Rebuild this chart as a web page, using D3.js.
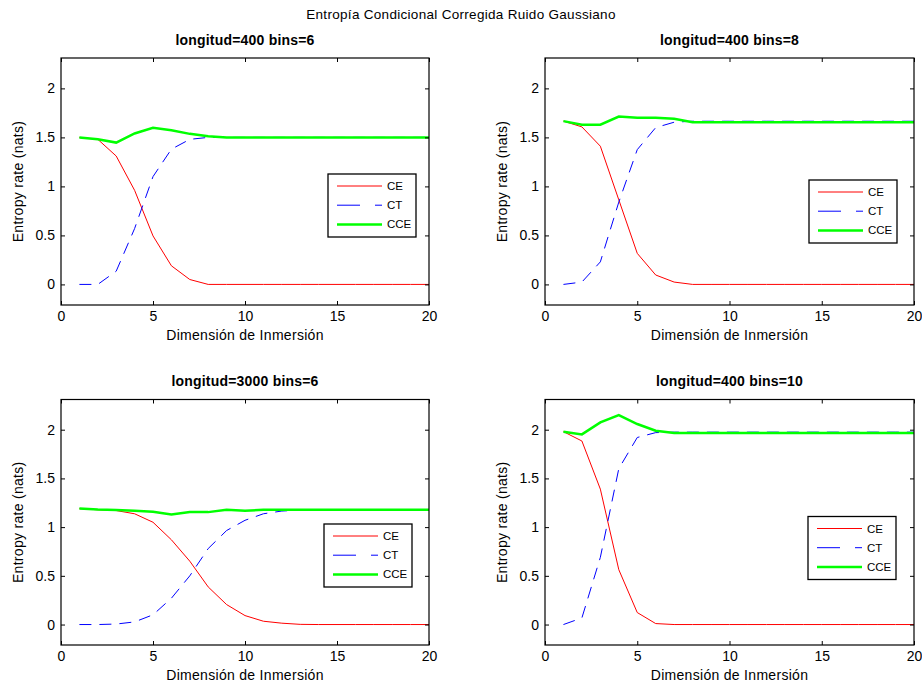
<!DOCTYPE html>
<html>
<head>
<meta charset="utf-8">
<script src="https://cdn.jsdelivr.net/npm/d3@7"></script>
<style>
  body { margin: 0; background: #fff; }
  svg { font-family: "Liberation Sans", Arial, sans-serif; }
</style>
</head>
<body>
<svg id="chart" width="922" height="687"></svg>
<script>
// embedding dimension 1..20
const dims = d3.range(1, 21);

// longitud=400 bins=6
const ce400b6  = [1.50, 1.48, 1.31, 0.96, 0.495, 0.19, 0.05, 0, 0, 0, 0, 0, 0, 0, 0, 0, 0, 0, 0, 0];
const ct400b6  = [0, 0, 0.135, 0.57, 1.10, 1.38, 1.48, 1.50, 1.50, 1.50, 1.50, 1.50, 1.50, 1.50, 1.50, 1.50, 1.50, 1.50, 1.50, 1.50];
const cce400b6 = [1.50, 1.48, 1.447, 1.54, 1.597, 1.573, 1.536, 1.512, 1.50, 1.50, 1.50, 1.50, 1.50, 1.50, 1.50, 1.50, 1.50, 1.50, 1.50, 1.50];

// longitud=400 bins=8
const ce400b8  = [1.666, 1.607, 1.41, 0.863, 0.317, 0.096, 0.024, 0, 0, 0, 0, 0, 0, 0, 0, 0, 0, 0, 0, 0];
const ct400b8  = [0, 0.024, 0.23, 0.84, 1.375, 1.60, 1.655, 1.665, 1.665, 1.665, 1.665, 1.665, 1.665, 1.665, 1.665, 1.665, 1.665, 1.665, 1.665, 1.665];
const cce400b8 = [1.666, 1.63, 1.63, 1.713, 1.70, 1.70, 1.69, 1.655, 1.655, 1.655, 1.655, 1.655, 1.655, 1.655, 1.655, 1.655, 1.655, 1.655, 1.655, 1.655];

// longitud=3000 bins=6
const ce3000b6  = [1.19, 1.178, 1.17, 1.137, 1.05, 0.87, 0.65, 0.386, 0.205, 0.092, 0.034, 0.014, 0.002, 0, 0, 0, 0, 0, 0, 0];
const ct3000b6  = [0, 0, 0.005, 0.027, 0.10, 0.27, 0.50, 0.78, 0.965, 1.07, 1.137, 1.165, 1.175, 1.178, 1.178, 1.178, 1.178, 1.178, 1.178, 1.178];
const cce3000b6 = [1.19, 1.18, 1.175, 1.167, 1.157, 1.13, 1.154, 1.154, 1.178, 1.167, 1.178, 1.178, 1.178, 1.178, 1.178, 1.178, 1.178, 1.178, 1.178, 1.178];

// longitud=400 bins=10
const ce400b10  = [1.98, 1.884, 1.39, 0.563, 0.123, 0.01, 0, 0, 0, 0, 0, 0, 0, 0, 0, 0, 0, 0, 0, 0];
const ct400b10  = [0, 0.068, 0.69, 1.60, 1.92, 1.97, 1.975, 1.975, 1.975, 1.975, 1.975, 1.975, 1.975, 1.975, 1.975, 1.975, 1.975, 1.975, 1.975, 1.975];
const cce400b10 = [1.98, 1.952, 2.075, 2.15, 2.058, 1.99, 1.966, 1.966, 1.966, 1.966, 1.966, 1.966, 1.966, 1.966, 1.966, 1.966, 1.966, 1.966, 1.966, 1.966];

const xTicks = [0, 5, 10, 15, 20];
const yTicks = [0, 0.5, 1, 1.5, 2];
const seriesNames = ["CE", "CT", "CCE"];

const mainTitle = "Entropía Condicional Corregida Ruido Gaussiano";
const xLabel = "Dimensión de Inmersión";
const yLabel = "Entropy rate (nats)";

const styles = [
  { color: "#ff0000", width: 1, dash: null, legendDash: null },
  { color: "#0000ff", width: 1, dash: "12,8", legendDash: "23,15,7" },
  { color: "#00ff00", width: 2.5, dash: null, legendDash: null }
];

// panel layout (axes box in pixels, legend offset from top-right of axes)
const panels = [
  { title: "longitud=400 bins=6",   series: [ce400b6, ct400b6, cce400b6],     box: [61, 58, 429, 305],   leg: [13, 116] },
  { title: "longitud=400 bins=8",   series: [ce400b8, ct400b8, cce400b8],     box: [545, 58, 914, 305],  leg: [17, 122] },
  { title: "longitud=3000 bins=6",  series: [ce3000b6, ct3000b6, cce3000b6],  box: [61, 399.5, 429, 645], leg: [17, 124.5] },
  { title: "longitud=400 bins=10",  series: [ce400b10, ct400b10, cce400b10],  box: [545, 399.5, 914, 645], leg: [18, 117] }
];

const svg = d3.select("#chart");

svg.append("text")
  .attr("x", 461)
  .attr("y", 19)
  .attr("text-anchor", "middle")
  .style("font-size", "13.5px")
  .style("letter-spacing", "0.3px")
  .style("fill", "#000")
  .text(mainTitle);

const tickLen = 4;

panels.forEach((p, i) => {
  const [x0, y0, x1, y1] = p.box;
  const x = d3.scaleLinear().domain([0, 20]).range([x0, x1]);
  const y = d3.scaleLinear().domain([-0.21, 2.31]).range([y1, y0]);

  const g = svg.append("g");

  // data lines
  p.series.forEach((vals, k) => {
    const st = styles[k];
    const line = d3.line().x((d, j) => x(dims[j])).y(d => y(d));
    g.append("path")
      .datum(vals)
      .attr("d", line)
      .attr("fill", "none")
      .attr("stroke", st.color)
      .attr("stroke-width", st.width)
      .attr("stroke-dasharray", st.dash);
  });

  // axes: ticks inside on all four sides
  const bottom = g.append("g")
    .attr("transform", `translate(0,${y1})`)
    .call(d3.axisBottom(x).tickValues(xTicks).tickSize(-tickLen).tickPadding(6).tickFormat(d3.format("d")));
  const top = g.append("g")
    .attr("transform", `translate(0,${y0})`)
    .call(d3.axisTop(x).tickValues(xTicks).tickSize(-tickLen).tickFormat(""));
  const left = g.append("g")
    .attr("transform", `translate(${x0},0)`)
    .call(d3.axisLeft(y).tickValues(yTicks).tickSize(-tickLen).tickPadding(6).tickFormat(d => d));
  const right = g.append("g")
    .attr("transform", `translate(${x1},0)`)
    .call(d3.axisRight(y).tickValues(yTicks).tickSize(-tickLen).tickFormat(""));

  [bottom, top, left, right].forEach(a => {
    a.select(".domain").remove();
    a.selectAll("line").attr("stroke", "#000").attr("stroke-width", 1);
    a.selectAll("text").style("font-size", "14px").style("fill", "#000").attr("font-family", null);
  });

  // axes frame
  g.append("rect")
    .attr("x", x0)
    .attr("y", y0)
    .attr("width", x1 - x0)
    .attr("height", y1 - y0)
    .attr("fill", "none")
    .attr("stroke", "#000")
    .attr("stroke-width", 1.2);

  // titles and labels
  g.append("text")
    .attr("x", (x0 + x1) / 2)
    .attr("y", y0 - 13.5)
    .attr("text-anchor", "middle")
    .style("font-size", "14px")
    .style("letter-spacing", "0.2px")
    .style("font-weight", "bold")
    .text(p.title);

  g.append("text")
    .attr("x", (x0 + x1) / 2)
    .attr("y", y1 + 35)
    .attr("text-anchor", "middle")
    .style("font-size", "14px")
    .style("letter-spacing", "0.3px")
    .text(xLabel);

  g.append("text")
    .attr("transform", `translate(${x0 - 38},${(y0 + y1) / 2}) rotate(-90)`)
    .attr("text-anchor", "middle")
    .style("font-size", "14px")
    .style("letter-spacing", "0.3px")
    .text(yLabel);

  // legend
  const lw = 88, lh = 63;
  const lx = x1 - p.leg[0] - lw;
  const ly = y0 + p.leg[1];
  const leg = g.append("g").attr("transform", `translate(${lx},${ly})`);
  leg.append("rect")
    .attr("width", lw)
    .attr("height", lh)
    .attr("fill", "#fff")
    .attr("stroke", "#000")
    .attr("stroke-width", 1.3);
  seriesNames.forEach((name, k) => {
    const st = styles[k];
    const ry = 12 + k * 19.2;
    leg.append("line")
      .attr("x1", 9).attr("x2", 54)
      .attr("y1", ry).attr("y2", ry)
      .attr("stroke", st.color)
      .attr("stroke-width", st.width)
      .attr("stroke-dasharray", st.legendDash);
    leg.append("text")
      .attr("x", 59)
      .attr("y", ry + 4)
      .style("font-size", "11.5px")
      .text(name);
  });
});
</script>
</body>
</html>
